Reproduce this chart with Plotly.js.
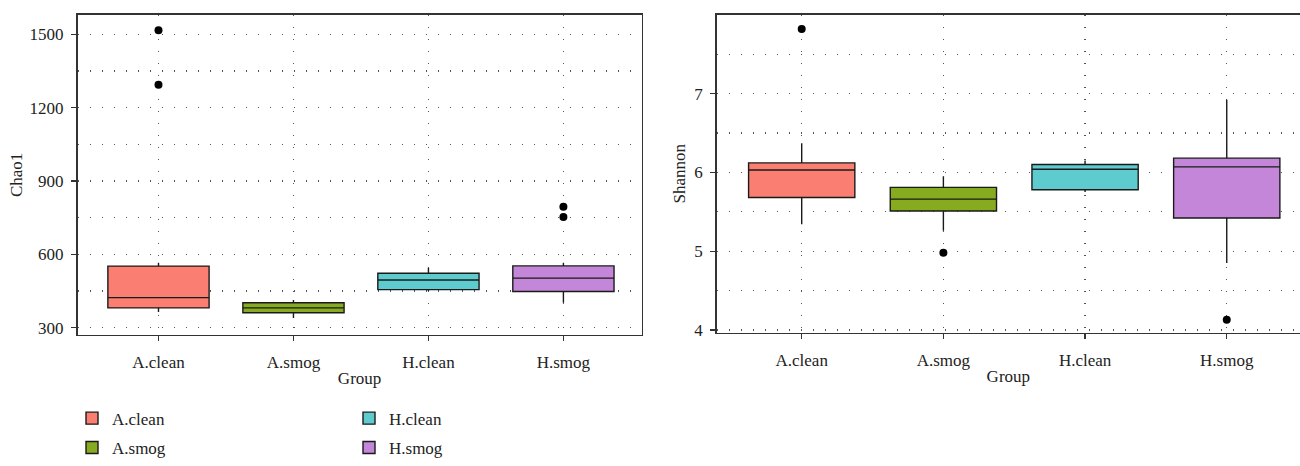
<!DOCTYPE html>
<html>
<head>
<meta charset="utf-8">
<script src="https://cdn.plot.ly/plotly-3.0.1.min.js"></script>
<style>html,body{margin:0;padding:0;background:#fff;overflow:hidden}#chart{width:1300px;height:466px}</style>
</head>
<body>
<div id="chart"></div>
<script>
// Data
const groups = ['A.clean', 'A.smog', 'H.clean', 'H.smog'];
const colors = ['#FA7F72', '#87AB1E', '#5ECCCF', '#C386D9'];

// Chao1 box statistics
const chaoLower  = [364, 340, 450, 402];
const chaoQ1     = [381, 361, 456, 448];
const chaoMedian = [423, 381, 495, 503];
const chaoQ3     = [552, 402, 523, 553];
const chaoUpper  = [566, 413, 545, 566];
const chaoOutX   = ['A.clean', 'A.clean', 'H.smog', 'H.smog'];
const chaoOutY   = [1517, 1294, 795, 753];

// Shannon box statistics
const shanLower  = [5.34, 5.26, 5.75, 4.85];
const shanQ1     = [5.68, 5.51, 5.78, 5.42];
const shanMedian = [6.03, 5.66, 6.04, 6.07];
const shanQ3     = [6.12, 5.81, 6.10, 6.18];
const shanUpper  = [6.37, 5.95, 6.15, 6.92];
const shanOutX   = ['A.smog', 'A.clean', 'H.smog'];
const shanOutY   = [4.98, 7.82, 4.13];

const FONT = 'Liberation Serif';
const FS = 17;
const legendOf = {'A.clean': 'legend', 'H.clean': 'legend', 'A.smog': 'legend2', 'H.smog': 'legend2'};

const traces = [];
function addBoxes(lo, q1, med, q3, up, xa, ya, show) {
  groups.forEach((g, i) => {
    traces.push({
      type: 'box', name: g, x: [g],
      lowerfence: [lo[i]], q1: [q1[i]], median: [med[i]], q3: [q3[i]], upperfence: [up[i]],
      boxpoints: false, width: 0.75, whiskerwidth: 0,
      fillcolor: colors[i], line: {color: '#1a1a1a', width: 1.4},
      xaxis: xa, yaxis: ya, showlegend: show, legend: legendOf[g], legendgroup: g,
      hoverinfo: 'skip'
    });
  });
}
addBoxes(chaoLower, chaoQ1, chaoMedian, chaoQ3, chaoUpper, 'x', 'y', true);
addBoxes(shanLower, shanQ1, shanMedian, shanQ3, shanUpper, 'x2', 'y2', false);
traces.push({type: 'scatter', mode: 'markers', x: chaoOutX, y: chaoOutY, xaxis: 'x', yaxis: 'y',
  marker: {color: '#000', size: 8}, showlegend: false, hoverinfo: 'skip'});
traces.push({type: 'scatter', mode: 'markers', x: shanOutX, y: shanOutY, xaxis: 'x2', yaxis: 'y2',
  marker: {color: '#000', size: 8}, showlegend: false, hoverinfo: 'skip'});

const DASH = '1.5px,10.5px';
const axisCommon = {
  showline: true, linecolor: '#333', linewidth: 1.5,
  ticks: 'outside', ticklen: 5, tickcolor: '#333', tickwidth: 1.3,
  tickfont: {family: FONT, size: FS, color: '#222'},
  gridcolor: '#555', gridwidth: 1.3, griddash: DASH,
  zeroline: false
};
const titleFont = {family: FONT, size: FS, color: '#222'};

const layout = {
  width: 1300, height: 466,
  margin: {l: 0, r: 0, t: 0, b: 0},
  paper_bgcolor: '#fff', plot_bgcolor: '#fff',
  boxmode: 'overlay',
  font: {family: FONT, size: FS, color: '#222'},
  xaxis: Object.assign({}, axisCommon, {
    domain: [77.5/1300, 641.7/1300], anchor: 'y', mirror: true,
    type: 'category', categoryorder: 'array', categoryarray: groups,
    range: [-0.6, 3.58], showgrid: true, ticklabelstandoff: 6,
    title: {text: 'Group', font: titleFont, standoff: 1}
  }),
  yaxis: Object.assign({}, axisCommon, {
    domain: [(466-340)/466, (466-15)/466], anchor: 'x', mirror: true,
    range: [270.6, 1580.6], tickvals: [300, 600, 900, 1200, 1500], showgrid: true, ticklabelstandoff: 4,
    minor: {tickvals: [450, 750, 1050, 1350], showgrid: true, gridcolor: '#555', gridwidth: 1.3, griddash: DASH, ticks: ''},
    title: {text: 'Chao1', font: titleFont, standoff: 2}
  }),
  xaxis2: Object.assign({}, axisCommon, {
    domain: [716.7/1300, 1], anchor: 'y2', mirror: true,
    type: 'category', categoryorder: 'array', categoryarray: groups,
    range: [-0.6, 3.517], showgrid: true, ticklabelstandoff: 6,
    title: {text: 'Group', font: titleFont, standoff: 1}
  }),
  yaxis2: Object.assign({}, axisCommon, {
    domain: [(466-337.7)/466, (466-15)/466], anchor: 'x2', mirror: false,
    range: [3.966, 8.0], tickvals: [4, 5, 6, 7], showgrid: true, ticklabelstandoff: 4,
    minor: {tickvals: [4.5, 5.5, 6.5, 7.5], showgrid: true, gridcolor: '#555', gridwidth: 1.3, griddash: DASH, ticks: ''},
    title: {text: 'Shannon', font: titleFont, standoff: 4}
  }),
  legend: {orientation: 'h', x: 72/1300, xanchor: 'left', y: (466-425)/466, yanchor: 'middle',
    entrywidth: 232, entrywidthmode: 'pixels', font: {family: FONT, size: FS, color: '#222'},
    bgcolor: 'rgba(0,0,0,0)', traceorder: 'normal'},
  legend2: {orientation: 'h', x: 72/1300, xanchor: 'left', y: (466-455)/466, yanchor: 'middle',
    entrywidth: 232, entrywidthmode: 'pixels', font: {family: FONT, size: FS, color: '#222'},
    bgcolor: 'rgba(0,0,0,0)', traceorder: 'normal'}
};

Plotly.newPlot('chart', traces, layout, {staticPlot: true, displayModeBar: false});
</script>
</body>
</html>
